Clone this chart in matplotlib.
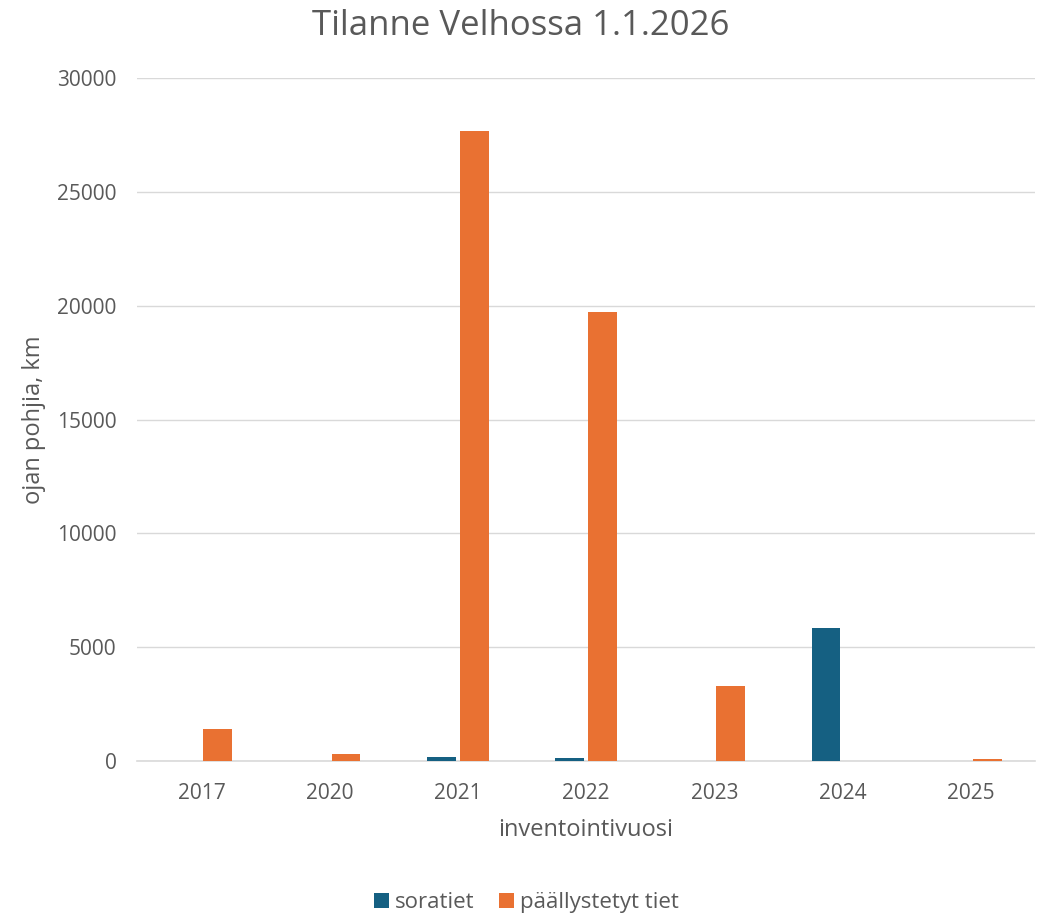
import numpy as np
import matplotlib.pyplot as plt

plt.rcParams["font.family"] = ["Open Sans", "DejaVu Sans"]

years = ["2017", "2020", "2021", "2022", "2023", "2024", "2025"]
soratiet = [0, 0, 180, 130, 0, 5820, 0]
paallystetyt = [1400, 300, 27680, 19730, 3300, 0, 80]

blue = "#156082"
orange = "#E97132"
text_col = "#595959"

fig = plt.figure(figsize=(10.4, 9.13), dpi=100)
ax = fig.add_axes([0.132, 0.1665, 0.863, 0.748])

x = np.arange(len(years))
w = 0.225
ax.bar(x - 0.128, soratiet, w, color=blue, label="soratiet", zorder=3)
ax.bar(x + 0.128, paallystetyt, w, color=orange, label="päällystetyt tiet", zorder=3)

ax.set_xlim(-0.5, len(years) - 0.5)
ax.set_ylim(0, 30000)
ax.set_yticks(range(0, 30001, 5000))
ax.set_xticks(x)
ax.set_xticklabels(years)
ax.grid(axis="y", color="#D9D9D9", linewidth=1, zorder=0)
for s in ["top", "right", "left"]:
    ax.spines[s].set_visible(False)
ax.spines["bottom"].set_color("#D9D9D9")
ax.spines["bottom"].set_linewidth(1.2)
ax.tick_params(axis="both", length=0, labelsize=15, colors=text_col)
ax.tick_params(axis="x", pad=16)
ax.tick_params(axis="y", pad=15)

fig.text(0.501, 0.972, "Tilanne Velhossa 1.1.2026", fontsize=25, color=text_col,
         ha="center", va="center")
ax.set_xlabel("inventointivuosi", fontsize=17, color=text_col, labelpad=10)
ax.set_ylabel("ojan pohjia, km", fontsize=17, color=text_col, labelpad=8)

fig.legend(loc="lower center", bbox_to_anchor=(0.506, -0.022), ncol=2, frameon=False,
           fontsize=16, labelcolor=text_col, handlelength=0.7, handleheight=0.7,
           columnspacing=1.1, handletextpad=0.25)

fig.savefig("out.png", dpi=100)
